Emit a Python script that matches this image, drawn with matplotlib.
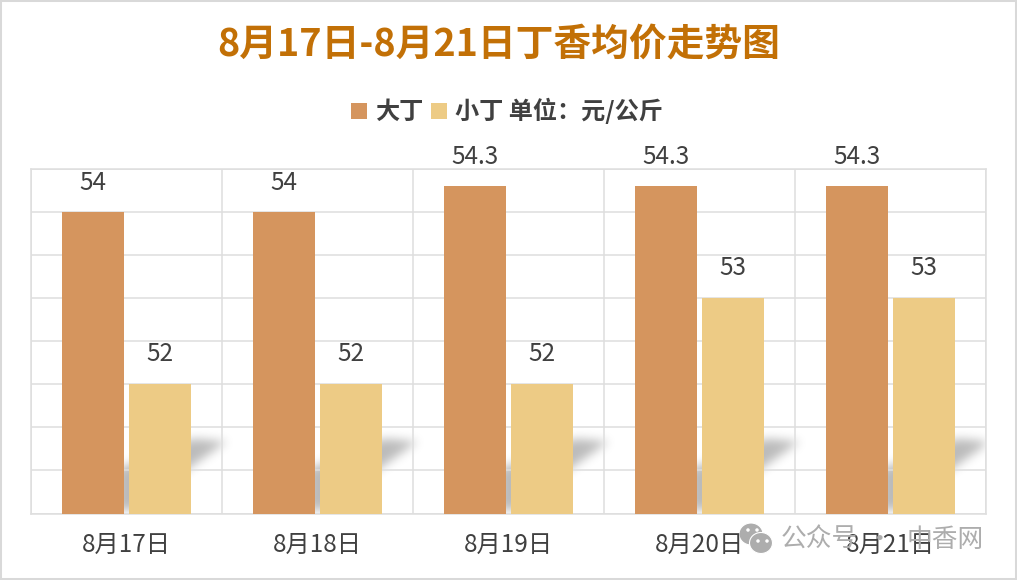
import numpy as np
import matplotlib
matplotlib.use('Agg')
import matplotlib.pyplot as plt
from matplotlib.patches import Ellipse, Rectangle
from matplotlib.path import Path

plt.rcParams['font.family'] = ['Noto Sans CJK SC', 'DejaVu Sans']

categories = ['8月17日', '8月18日', '8月19日', '8月20日', '8月21日']
big_clove = [54, 54, 54.3, 54.3, 54.3]
small_clove = [52, 52, 52, 53, 53]
series_names = ['大丁', '小丁 单位：元/公斤']
title = '8月17日-8月21日丁香均价走势图'

W, H = 1017, 580
dark = '#404040'
grid_c = '#dedede'
c_big = '#d5955e'
c_small = '#edcb85'


def fx(px):
    return px / W


def fy(py):
    return 1 - py / H


fig = plt.figure(figsize=(W / 100, H / 100), dpi=100, facecolor='white')
ax_left, ax_right, ax_top, ax_bottom = 31, 986, 168.5, 513.5
ax = fig.add_axes([fx(ax_left), fy(ax_bottom), fx(ax_right - ax_left), (ax_bottom - ax_top) / H])

x = np.arange(len(categories))
bw = 0.323
off = 0.176
b1 = ax.bar(x - off, big_clove, bw, color=c_big, zorder=3, label=series_names[0])
b2 = ax.bar(x + off, small_clove, bw, color=c_small, zorder=3, label=series_names[1])
ax.bar_label(b1, fmt='%g', padding=11.5, fontsize=17.5, color=dark)
ax.bar_label(b2, fmt='%g', padding=12.5, fontsize=17.5, color=dark)

# soft floor shadow behind each group: polygon mask, blurred with numpy
nx, ny = ax_right - ax_left, int(ax_bottom - ax_top)
px_x, px_y = np.meshgrid(np.arange(nx) + ax_left + 0.5, np.arange(ny) + ax_top + 0.5)
grid_pts = np.column_stack([px_x.ravel(), px_y.ravel()])
shape = np.array([[-10, 510], [-10, 470], [66, 439], [100, 442], [62, 469], [10, 510]], dtype=float)
mask = np.zeros(px_x.shape)
for i in x:
    poly = shape.copy()
    poly[:, 0] += ax_left + (i + 0.5) * nx / len(categories)
    mask += Path(poly).contains_points(grid_pts).reshape(px_x.shape)
kernel = np.exp(-0.5 * (np.arange(-15, 16) / 5.0) ** 2)
kernel /= kernel.sum()
pad = 20
blur = np.pad(mask, pad)
blur = np.apply_along_axis(lambda r: np.convolve(r, kernel, mode='same'), 0, blur)
blur = np.apply_along_axis(lambda r: np.convolve(r, kernel, mode='same'), 1, blur)
blur = blur[pad:-pad, pad:-pad]
rgba = np.zeros(blur.shape + (4,))
rgba[..., 3] = blur * 0.27
ax.imshow(rgba, extent=(-0.5, len(categories) - 0.5, 50.5, 54.5), origin='upper',
          aspect='auto', zorder=1, interpolation='bilinear')

ax.set_xlim(-0.5, len(categories) - 0.5)
ax.set_ylim(50.5, 54.5)
ax.set_yticks(np.arange(50.5, 54.51, 0.5))
ax.set_xticks(x)
ax.set_xticklabels(categories, fontsize=17.5, color=dark)
ax.set_xticks(np.arange(-0.5, len(categories)), minor=True)
ax.tick_params(axis='x', which='both', length=0, pad=13.5)
ax.tick_params(axis='y', which='both', length=0, labelleft=False)
ax.grid(True, axis='y', color=grid_c, lw=1.1, zorder=1.5)
ax.grid(True, axis='x', which='minor', color=grid_c, lw=1.1, zorder=1.5)
ax.grid(False, axis='x', which='major')
ax.set_axisbelow(False)
for s in ax.spines.values():
    s.set_color(grid_c)
    s.set_linewidth(1.1)

fig.text(fx(498.5), fy(45), title, fontsize=27.2, fontweight='bold', color='#c27006',
         ha='center', va='center')

leg = ax.legend(loc='center', bbox_to_anchor=(fx(507), fy(111)), bbox_transform=fig.transFigure,
                ncol=2, frameon=False, handlelength=0.66, handleheight=0.66, handletextpad=0.34,
                columnspacing=0.34, borderpad=0, borderaxespad=0,
                prop={'size': 17.4, 'weight': 'bold'})
for t in leg.get_texts():
    t.set_color(dark)

# watermark
mark = '#adadad'
fig.text(fx(781), fy(540), '公众号', fontsize=18.5, color=mark, ha='left', va='center', zorder=0)
fig.text(fx(880), fy(540), '·', fontsize=18.5, color=mark, ha='center', va='center', zorder=0)
fig.text(fx(984), fy(540), '中香网', fontsize=18.5, color=mark, ha='right', va='center', zorder=0)
for ex, ey, ew, eh in [(751, 534, 24, 22), (761, 543, 23, 21)]:
    fig.add_artist(Ellipse((fx(ex), fy(ey)), ew / W, eh / H, fc=mark, ec='white',
                           lw=0.8, transform=fig.transFigure, zorder=0))
for ex, ey in [(748, 530), (757, 530), (758, 541), (767, 541)]:
    fig.add_artist(Ellipse((fx(ex), fy(ey)), 3.5 / W, 3.5 / H, fc='white', ec='none',
                           transform=fig.transFigure, zorder=0))

# outer frame of the picture
fig.add_artist(Rectangle((0, 0), 1, 1, fc='none', ec='#d9d9d9', lw=2.9, transform=fig.transFigure))

fig.savefig('out.png', dpi=100)
